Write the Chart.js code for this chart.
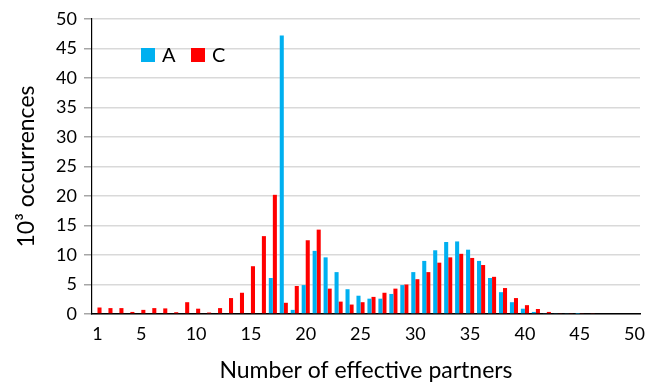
<!DOCTYPE html>
<html>
<head>
<meta charset="utf-8">
<script src="https://cdn.jsdelivr.net/npm/chart.js@4"></script>
<style>
  html, body { margin: 0; padding: 0; background: #ffffff; }
  #wrap { width: 656px; height: 385px; }
</style>
</head>
<body>
<div id="wrap"><canvas id="chart" width="656" height="385"></canvas></div>
<script>
// Number of effective partners (category axis)
const partners = [1, 2, 3, 4, 5, 6, 7, 8, 9, 10,
  11, 12, 13, 14, 15, 16, 17, 18, 19, 20,
  21, 22, 23, 24, 25, 26, 27, 28, 29, 30,
  31, 32, 33, 34, 35, 36, 37, 38, 39, 40,
  41, 42, 43, 44, 45, 46, 47, 48, 49, 50];

// Occurrences (thousands) for series A
const seriesA = [0, 0, 0, 0, 0, 0, 0, 0, 0, 0,
  0, 0, 0, 0, 0, 0, 6.1, 47.2, 0.7, 4.9,
  10.7, 9.6, 7.1, 4.2, 3.1, 2.6, 2.6, 3.4, 4.9, 7.1,
  9.0, 10.8, 12.2, 12.3, 10.9, 9.0, 6.1, 3.7, 2.0, 0.9,
  0.35, 0.15, 0.15, 0.15, 0.05, 0, 0, 0, 0, 0];

// Occurrences (thousands) for series C
const seriesC = [1.1, 1.0, 1.0, 0.35, 0.7, 1.0, 0.95, 0.3, 2.0, 0.9,
  0.25, 1.0, 2.7, 3.6, 8.1, 13.2, 20.2, 1.9, 4.75, 12.5,
  14.3, 4.3, 2.1, 1.6, 2.0, 2.9, 3.6, 4.3, 5.0, 5.9,
  7.1, 8.7, 9.6, 10.2, 9.5, 8.3, 6.3, 4.4, 2.7, 1.5,
  0.85, 0.35, 0.15, 0.15, 0.15, 0.15, 0, 0, 0, 0];

// Which categories carry a label on the x axis
const xTickLabels = [1, 5, 10, 15, 20, 25, 30, 35, 40, 45, 50];
// Y axis ticks
const yTickValues = [0, 5, 10, 15, 20, 25, 30, 35, 40, 45, 50];

const FONT = "Lato, 'Open Sans', sans-serif";
const BLUE = '#00B0F0';
const RED = '#FF0000';

// Legend drawn inside the plot area, upper left
const insideLegend = {
  id: 'insideLegend',
  afterDraw(chart) {
    const ctx = chart.ctx;
    const items = chart.data.datasets.map(d => ({ label: d.label, color: d.backgroundColor }));
    let x = 141;
    const y = 48;
    ctx.save();
    ctx.font = '20px ' + FONT;
    ctx.textBaseline = 'middle';
    ctx.textAlign = 'left';
    items.forEach(it => {
      ctx.fillStyle = it.color;
      ctx.fillRect(x, y, 14, 14);
      ctx.fillStyle = '#000000';
      ctx.fillText(it.label, x + 21, y + 8);
      x += 50;
    });
    ctx.restore();
  }
};

new Chart(document.getElementById('chart'), {
  type: 'bar',
  data: {
    labels: partners,
    datasets: [
      { label: 'A', data: seriesA, backgroundColor: BLUE, categoryPercentage: 0.74, barPercentage: 1.0 },
      { label: 'C', data: seriesC, backgroundColor: RED, categoryPercentage: 0.74, barPercentage: 1.0 }
    ]
  },
  options: {
    responsive: false,
    animation: false,
    layout: { padding: { left: 0, right: 16, top: 19, bottom: 0 } },
    plugins: {
      legend: { display: false },
      tooltip: { enabled: false }
    },
    scales: {
      x: {
        type: 'category',
        offset: true,
        grid: { display: false, drawTicks: false },
        border: { display: true, color: '#000000', width: 1.5 },
        ticks: {
          autoSkip: false,
          maxRotation: 0,
          minRotation: 0,
          padding: 9,
          color: '#000000',
          font: { family: FONT, size: 18 },
          callback: function (value) {
            const lab = this.getLabelForValue(value);
            return xTickLabels.includes(Number(lab)) ? String(lab) : '';
          }
        },
        title: {
          display: true,
          text: 'Number of effective partners',
          color: '#000000',
          font: { family: FONT, size: 23 },
          padding: { top: 0, bottom: 1 }
        },
        afterFit(scale) { scale.height = 71; }
      },
      y: {
        min: 0,
        max: 50,
        afterBuildTicks(scale) { scale.ticks = yTickValues.map(v => ({ value: v })); },
        grid: { color: '#D9D9D9', lineWidth: 1.5, tickLength: 8, tickColor: '#A6A6A6' },
        border: { display: true, color: '#000000', width: 1.2 },
        ticks: {
          padding: 7,
          color: '#000000',
          font: { family: FONT, size: 18 }
        },
        title: {
          display: true,
          text: '10³ occurrences',
          color: '#000000',
          font: { family: FONT, size: 23 },
          padding: { top: 13, bottom: 0 }
        },
        afterFit(scale) { scale.width = 92; }
      }
    }
  },
  plugins: [insideLegend]
});
</script>
</body>
</html>
